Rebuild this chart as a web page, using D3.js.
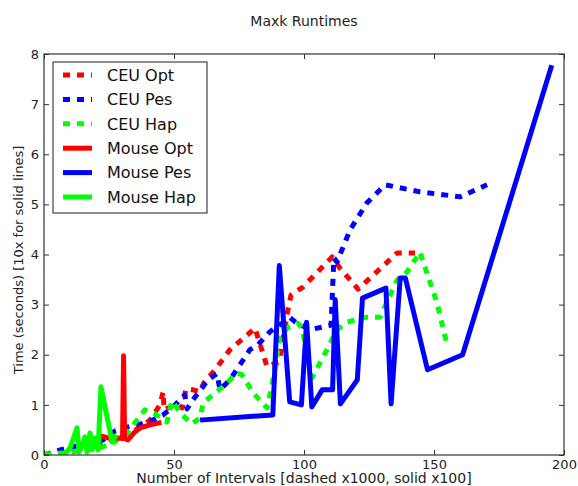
<!DOCTYPE html>
<html>
<head>
<meta charset="utf-8">
<script src="https://cdn.jsdelivr.net/npm/d3@7"></script>
<style>
  html, body { margin: 0; padding: 0; background: #fff; }
  svg { display: block; font-family: "DejaVu Sans", sans-serif; }
</style>
</head>
<body>
<svg id="chart" width="578" height="486"></svg>
<script>
// ---- data (x: intervals, y: seconds) ----
const ceuOpt = [[20.0,0.18],[28.5,0.36],[36.9,0.54],[40.8,0.70],[44.6,1.0],[45.8,1.26],[46.2,0.90],[50.4,1.0],[53.1,0.94],[54.6,1.32],[57.3,1.30],[60.0,1.26],[61.5,1.44],[65.8,1.70],[71.5,2.10],[81.2,2.53],[82.3,2.34],[85.8,1.76],[90.4,1.86],[93.8,2.89],[95.0,3.19],[99.6,3.35],[110.8,3.95],[113.8,3.73],[120.8,3.31],[135.8,4.03],[142.7,4.03]];
const ceuPes = [[0,0],[6.2,0.10],[11.2,0.16],[18.8,0.28],[22.7,0.30],[27.3,0.48],[32.3,0.56],[36.2,0.60],[41.9,0.70],[45.8,0.80],[49.6,0.96],[54.2,1.20],[55.0,0.92],[57.3,1.10],[63.1,1.50],[66.5,1.62],[67.7,1.30],[71.5,1.50],[79.2,2.10],[82.3,2.20],[86.9,2.46],[94.6,2.74],[96.5,2.66],[102.3,2.50],[110.4,2.59],[111.5,3.93],[112.7,3.85],[117.7,4.49],[124.2,5.03],[131.2,5.39],[144.6,5.25],[160.0,5.15],[170.4,5.39]];
const ceuHap = [[0,0.02],[8,0.04],[16,0.10],[22.3,0.16],[26.5,0.24],[31.9,0.44],[35.8,0.70],[38.8,0.90],[42.7,0.82],[47.3,0.66],[49.2,1.08],[53.1,0.80],[56.9,0.62],[60.0,0.74],[61.2,1.04],[65.8,1.24],[68.8,1.36],[74.2,1.64],[76.2,1.60],[80.4,1.24],[85.8,0.94],[87.7,1.40],[90.8,2.35],[93.8,2.55],[97.7,2.63],[99.2,2.53],[103.1,1.54],[108.8,2.10],[112.7,2.50],[116.5,2.65],[124.2,2.75],[129.2,2.75],[135.8,3.49],[139.6,3.65],[144.6,4.05],[146.5,3.75],[151.2,3.03],[155.0,2.20]];
const mouseOpt = [[20.8,0.22],[21.9,0.38],[24.6,0.34],[28.5,0.34],[30.2,0.33],[30.6,1.98],[31.0,0.33],[32.3,0.30],[34.6,0.44],[36.9,0.54],[40.8,0.60],[44.2,0.64]];
const mousePes = [[61,0.70],[88,0.80],[90.5,3.78],[94.5,1.06],[99,1.0],[101,2.65],[103,0.96],[107,1.30],[111,1.30],[112,3.10],[114,1.02],[120.5,1.50],[122.5,3.13],[131.5,3.33],[133.5,1.02],[137,3.53],[139,3.53],[147.5,1.70],[161,2.0],[195,7.73]];
const mouseHap = [[7.7,0.0],[10.0,0.14],[12.7,0.54],[13.5,0.06],[14.6,0.20],[15.8,0.36],[16.5,0.06],[17.7,0.44],[18.5,0.10],[19.6,0.34],[20.8,0.10],[21.9,1.36],[26.2,0.26],[27.3,0.36]];

const seriesNames = ["CEU Opt","CEU Pes","CEU Hap","Mouse Opt","Mouse Pes","Mouse Hap"];
const seriesData = [ceuOpt, ceuPes, ceuHap, mouseOpt, mousePes, mouseHap];
const seriesColors = ["#ff0000","#0000ff","#00ff00","#ff0000","#0000ff","#00ff00"];
const seriesDashed = [true, true, true, false, false, false];

const xTicks = [0, 50, 100, 150, 200];
const yTicks = [0, 1, 2, 3, 4, 5, 6, 7, 8];
const titleText = "Maxk Runtimes";
const xLabelText = "Number of Intervals [dashed x1000, solid x100]";
const yLabelText = "Time (seconds) [10x for solid lines]";

// ---- layout ----
const L = 44, R = 564, T = 54, B = 455;
const svg = d3.select("#chart");
const x = d3.scaleLinear().domain([0, 200]).range([L, R]);
const y = d3.scaleLinear().domain([0, 8]).range([B, T]);

svg.append("defs").append("clipPath").attr("id", "clip")
  .append("rect").attr("x", L).attr("y", T).attr("width", R - L).attr("height", B - T);

const line = d3.line().x(d => x(d[0])).y(d => y(d[1]));
const plot = svg.append("g").attr("clip-path", "url(#clip)");
seriesData.forEach((data, i) => {
  plot.append("path")
    .attr("d", line(data))
    .attr("fill", "none")
    .attr("stroke", seriesColors[i])
    .attr("stroke-width", 5)
    .attr("stroke-linejoin", "round")
    .attr("stroke-linecap", seriesDashed[i] ? "butt" : "square")
    .attr("stroke-dasharray", seriesDashed[i] ? "7,7" : null);
});

// frame
svg.append("rect").attr("x", L).attr("y", T).attr("width", R - L).attr("height", B - T)
  .attr("fill", "none").attr("stroke", "#333").attr("stroke-width", 1.2);

const tickLen = 5;
const axB = d3.axisBottom(x).tickValues(xTicks).tickSize(-tickLen).tickPadding(5).tickFormat(d3.format("d"));
const axT = d3.axisTop(x).tickValues(xTicks).tickSize(-tickLen).tickFormat("");
const axLft = d3.axisLeft(y).tickValues(yTicks).tickSize(-tickLen).tickPadding(5).tickFormat(d3.format("d"));
const axRt = d3.axisRight(y).tickValues(yTicks).tickSize(-tickLen).tickFormat("");

function styleAxis(g) {
  g.select(".domain").remove();
  g.selectAll(".tick line").attr("stroke", "#333");
  g.selectAll(".tick text").attr("fill", "#222").style("font-size", "13px").style("font-family", "DejaVu Sans, sans-serif");
}
svg.append("g").attr("transform", `translate(0,${B})`).call(axB).call(styleAxis);
svg.append("g").attr("transform", `translate(0,${T})`).call(axT).call(styleAxis);
svg.append("g").attr("transform", `translate(${L},0)`).call(axLft).call(styleAxis);
svg.append("g").attr("transform", `translate(${R},0)`).call(axRt).call(styleAxis);

// title and labels
svg.append("text").attr("x", (L + R) / 2).attr("y", 26).attr("text-anchor", "middle")
  .style("font-size", "14px").attr("fill", "#222").text(titleText);
svg.append("text").attr("x", (L + R) / 2).attr("y", 482.5).attr("text-anchor", "middle")
  .style("font-size", "14px").attr("fill", "#222").text(xLabelText);
svg.append("text").attr("transform", `translate(23,260) rotate(-90)`).attr("text-anchor", "middle")
  .style("font-size", "13px").attr("fill", "#222").text(yLabelText);

// legend
const lg = svg.append("g");
lg.append("rect").attr("x", 53).attr("y", 62).attr("width", 154).attr("height", 151)
  .attr("fill", "#fff").attr("stroke", "#444").attr("stroke-width", 1.2);
seriesNames.forEach((name, i) => {
  const cy = 75 + i * 24.4;
  lg.append("line").attr("x1", 63).attr("x2", 92).attr("y1", cy).attr("y2", cy)
    .attr("stroke", seriesColors[i]).attr("stroke-width", 5)
    .attr("stroke-dasharray", seriesDashed[i] ? "7,7" : null);
  lg.append("text").attr("x", 107).attr("y", cy).attr("dy", "0.36em")
    .style("font-size", "16px").attr("fill", "#111").text(name);
});
</script>
</body>
</html>
